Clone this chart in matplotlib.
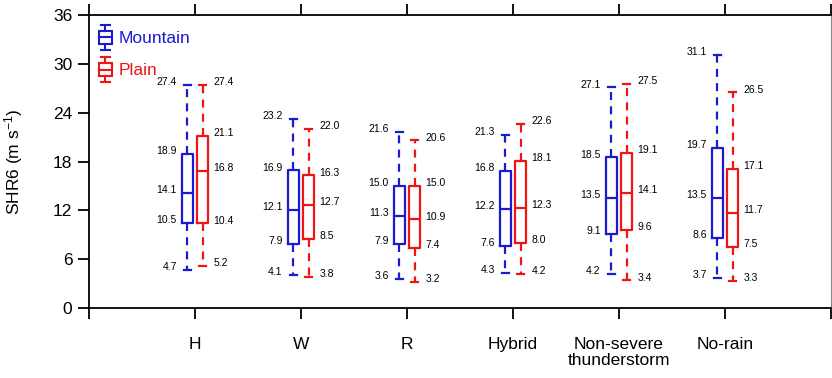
import matplotlib
matplotlib.use("Agg")
import matplotlib.pyplot as plt
from matplotlib.legend_handler import HandlerBase
from matplotlib.lines import Line2D
from matplotlib.patches import Rectangle

plt.rcParams['font.family'] = ['Liberation Sans', 'DejaVu Sans']
plt.rcParams['mathtext.default'] = 'regular'

categories = ["H", "W", "R", "Hybrid", "Non-severe\nthunderstorm", "No-rain"]
series_names = ["Mountain", "Plain"]

# [min, q1, median, q3, max] per category
mountain_min = [4.7, 4.1, 3.6, 4.3, 4.2, 3.7]
mountain_q1 = [10.5, 7.9, 7.9, 7.6, 9.1, 8.6]
mountain_med = [14.1, 12.1, 11.3, 12.2, 13.5, 13.5]
mountain_q3 = [18.9, 16.9, 15.0, 16.8, 18.5, 19.7]
mountain_max = [27.4, 23.2, 21.6, 21.3, 27.1, 31.1]

plain_min = [5.2, 3.8, 3.2, 4.2, 3.4, 3.3]
plain_q1 = [10.4, 8.5, 7.4, 8.0, 9.6, 7.5]
plain_med = [16.8, 12.7, 10.9, 12.3, 14.1, 11.7]
plain_q3 = [21.1, 16.3, 15.0, 18.1, 19.1, 17.1]
plain_max = [27.4, 22.0, 20.6, 22.6, 27.5, 26.5]

yticks = [0, 6, 12, 18, 24, 30, 36]

BLUE = '#1a1ad2'
RED = '#f01414'

fig = plt.figure(figsize=(8.32, 3.78), dpi=100)
ax = fig.add_axes([89/832, 70/378, 742/832, 293/378])

offset = 0.072
bw = 0.11
cw = 0.07

def make_stats(mins, q1s, meds, q3s, maxs):
    return [dict(whislo=a, q1=b, med=c, q3=d, whishi=e, fliers=[])
            for a, b, c, d, e in zip(mins, q1s, meds, q3s, maxs)]

series = [
    (make_stats(mountain_min, mountain_q1, mountain_med, mountain_q3, mountain_max), -offset, BLUE,
     (mountain_min, mountain_q1, mountain_med, mountain_q3, mountain_max)),
    (make_stats(plain_min, plain_q1, plain_med, plain_q3, plain_max), offset, RED,
     (plain_min, plain_q1, plain_med, plain_q3, plain_max)),
]

for k, (stats, off, col, vals) in enumerate(series):
    pos = [i + 1 + off for i in range(len(categories))]
    ax.bxp(stats, positions=pos, widths=bw, capwidths=cw, showfliers=False,
           boxprops=dict(color=col, linewidth=1.6),
           medianprops=dict(color=col, linewidth=1.6),
           whiskerprops=dict(color=col, linewidth=1.6, linestyle=(0, (3.6, 2.8))),
           capprops=dict(color=col, linewidth=1.6),
           manage_ticks=False)
    for i, p in enumerate(pos):
        for arr in vals:
            v = arr[i]
            if k == 0:
                ax.annotate(f"{v:.1f}", xy=(p - bw/2, v), xytext=(-3.5, 2),
                            textcoords='offset points', ha='right', va='center',
                            fontsize=7.5, color='black')
            else:
                ax.annotate(f"{v:.1f}", xy=(p + bw/2, v), xytext=(3.5, 2),
                            textcoords='offset points', ha='left', va='center',
                            fontsize=7.5, color='black')

ax.set_xlim(0, 7)
ax.set_ylim(0, 36)
ax.set_yticks(yticks)
ax.set_yticklabels([str(t) for t in yticks])
ax.set_xticks(range(0, 8))
ax.set_xticklabels([""] + categories + [""])

ax.tick_params(axis='y', direction='out', length=8, width=1.3, labelsize=12.5, pad=4)
ax.tick_params(axis='x', direction='out', length=8, width=1.3, labelsize=12.5, pad=13,
               top=True)
for lbl in ax.get_xticklabels():
    lbl.set_linespacing(1.05)

for s in ['left', 'bottom', 'top']:
    ax.spines[s].set_linewidth(1.3)
    ax.spines[s].set_color('black')
ax.spines['right'].set_linewidth(0.8)
ax.spines['right'].set_color('#888888')

ax.set_ylabel("SHR6 (m s$^{-1}$)", fontsize=12.5)
ax.yaxis.set_label_coords(-0.086, 0.5)


class HandlerBox(HandlerBase):
    def create_artists(self, legend, orig_handle, xdescent, ydescent,
                       width, height, fontsize, trans):
        col = orig_handle.get_color()
        cx = -xdescent + width / 2
        y0 = -ydescent
        h = height
        bwid = width
        cwid = width * 0.6
        b0 = y0 + 0.22 * h
        b1 = y0 + 0.76 * h
        arts = []
        arts.append(Line2D([cx, cx], [y0, b0], color=col, lw=1.5, transform=trans))
        arts.append(Line2D([cx, cx], [b1, y0 + h], color=col, lw=1.5, transform=trans))
        arts.append(Line2D([cx - cwid/2, cx + cwid/2], [y0, y0], color=col, lw=1.5, transform=trans))
        arts.append(Line2D([cx - cwid/2, cx + cwid/2], [y0 + h, y0 + h], color=col, lw=1.5, transform=trans))
        arts.append(Rectangle((cx - bwid/2, b0), bwid, b1 - b0, fill=False, edgecolor=col,
                              lw=1.5, transform=trans))
        arts.append(Line2D([cx - bwid/2, cx + bwid/2], [(b0 + b1)/2, (b0 + b1)/2], color=col,
                           lw=1.5, transform=trans))
        return arts


handles = [Line2D([], [], color=BLUE), Line2D([], [], color=RED)]
ax.legend(handles, series_names, loc='upper left', frameon=False,
          handler_map={Line2D: HandlerBox()}, fontsize=12.5,
          handlelength=0.8, handleheight=1.84, labelspacing=0.42,
          handletextpad=0.35, borderaxespad=0.25, borderpad=0.3,
          labelcolor=[BLUE, RED])

fig.savefig("out.png", dpi=100)
